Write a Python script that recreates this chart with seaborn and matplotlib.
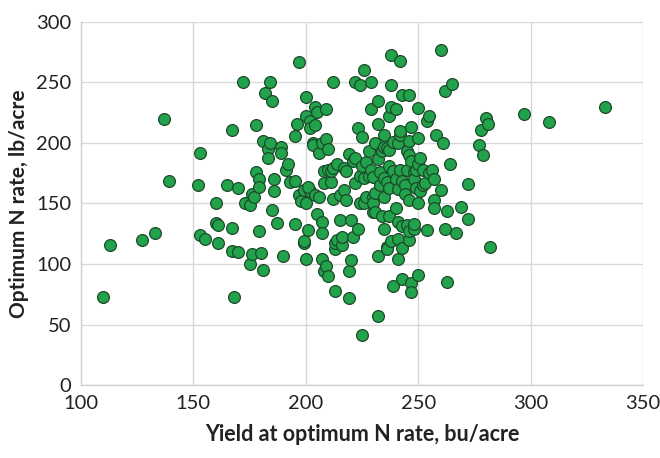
import matplotlib
matplotlib.use("Agg")
import matplotlib.pyplot as plt
import seaborn as sns
import pandas as pd

yield_bu = [
    110, 113, 127, 133, 137, 139, 152, 153, 153, 155, 160, 160, 161, 161, 165, 167, 167, 167, 168, 170,
    170, 172, 173, 175, 176, 177, 175, 176, 178, 178, 179, 179, 179, 180, 181, 181, 182, 183, 183, 184,
    184, 185, 185, 186, 186, 187, 189, 189, 190, 191, 192, 193, 195, 196, 195, 195, 197, 197, 198, 199,
    199, 199, 200, 200, 200, 200, 201, 202, 201, 202, 202, 203, 203, 204, 204, 204, 205, 205, 206, 206,
    207, 207, 207, 207, 208, 208, 208, 209, 209, 209, 210, 210, 210, 211, 211, 212, 212, 212, 213, 213,
    213, 214, 214, 215, 215, 216, 216, 217, 217, 218, 218, 219, 219, 219, 220, 220, 221, 221, 222, 222,
    222, 223, 223, 224, 224, 224, 225, 225, 225, 226, 226, 226, 227, 227, 228, 228, 229, 229, 229, 230,
    230, 230, 230, 231, 231, 231, 232, 232, 232, 232, 232, 233, 233, 234, 234, 235, 235, 235, 235, 235,
    236, 236, 236, 236, 237, 237, 237, 237, 237, 238, 238, 238, 238, 239, 239, 239, 240, 240, 240, 241,
    241, 241, 241, 241, 242, 242, 242, 242, 243, 243, 243, 243, 243, 244, 244, 245, 245, 245, 246, 246,
    246, 246, 246, 246, 247, 247, 247, 247, 248, 248, 248, 248, 249, 249, 250, 250, 250, 250, 250, 251,
    251, 252, 252, 253, 254, 255, 254, 255, 256, 257, 257, 257, 258, 260, 260, 261, 262, 262, 263, 263,
    265, 264, 267, 269, 272, 272, 277, 278, 279, 280, 281, 282, 297, 308, 333,
]
opt_n_rate = [
    73, 116, 120, 126, 220, 169, 165, 192, 124, 121, 150, 134, 132, 117, 165, 211, 130, 111, 73, 163,
    110, 250, 150, 149, 158, 155, 100, 108, 215, 176, 170, 164, 127, 109, 95, 202, 241, 195, 188, 250,
    200, 235, 145, 170, 160, 134, 197, 192, 107, 178, 183, 168, 169, 216, 206, 133, 267, 157, 152, 161,
    117, 119, 222, 238, 150, 104, 128, 160, 164, 218, 212, 200, 198, 230, 215, 157, 226, 141, 192, 155,
    200, 135, 104, 126, 177, 167, 94, 228, 203, 98, 90, 178, 195, 168, 177, 154, 250, 179, 112, 117,
    78, 120, 183, 157, 136, 116, 122, 161, 179, 153, 177, 72, 191, 94, 103, 136, 185, 122, 167, 188,
    250, 212, 129, 173, 150, 248, 41, 205, 181, 171, 150, 260, 155, 184, 173, 193, 250, 178, 228, 172,
    155, 143, 150, 200, 159, 143, 235, 107, 57, 216, 187, 176, 165, 193, 140, 207, 197, 171, 155, 129,
    196, 168, 114, 112, 222, 194, 181, 163, 140, 273, 248, 230, 119, 82, 177, 201, 170, 228, 146, 135,
    200, 162, 121, 104, 268, 207, 178, 210, 169, 131, 113, 240, 88, 165, 158, 132, 193, 178, 153, 120,
    127, 240, 202, 190, 213, 185, 84, 77, 129, 176, 170, 133, 178, 163, 229, 204, 150, 91, 183, 188,
    160, 165, 178, 167, 218, 222, 128, 175, 178, 153, 146, 170, 207, 277, 161, 200, 243, 129, 144, 85,
    249, 183, 126, 147, 166, 137, 198, 211, 190, 221, 216, 114, 224, 217, 230,
]

df = pd.DataFrame({"yield": yield_bu, "nrate": opt_n_rate})

sns.set_theme(style="whitegrid")
plt.rcParams["font.family"] = ["Lato", "DejaVu Sans"]

fig = plt.figure(figsize=(6.6, 4.58), dpi=100)
ax = fig.add_axes([81 / 660, 1 - 385 / 458, (643 - 81) / 660, (385 - 22) / 458])

sns.scatterplot(data=df, x="yield", y="nrate", ax=ax, s=72, color="#22a24a",
                edgecolor="#1b4a2a", linewidth=0.9, zorder=3)

ax.set_xlim(100, 350)
ax.set_ylim(0, 300)
ax.set_xticks([100, 150, 200, 250, 300, 350])
ax.set_yticks([0, 50, 100, 150, 200, 250, 300])
ax.grid(True, color="#d9d9d9", linewidth=1)
for s in ["top", "right"]:
    ax.spines[s].set_visible(False)
for s in ["left", "bottom"]:
    ax.spines[s].set_color("#d0d0d0")
    ax.spines[s].set_linewidth(1)
ax.tick_params(axis="both", length=0, labelsize=14.5, colors="#222222", pad=7)
ax.set_xlabel("Yield at optimum N rate, bu/acre", fontsize=15.5, fontweight="bold",
              color="#222222", labelpad=9)
ax.set_ylabel("Optimum N rate, lb/acre", fontsize=15, fontweight="bold",
              color="#222222", labelpad=5)

fig.savefig("out.png", dpi=100)
